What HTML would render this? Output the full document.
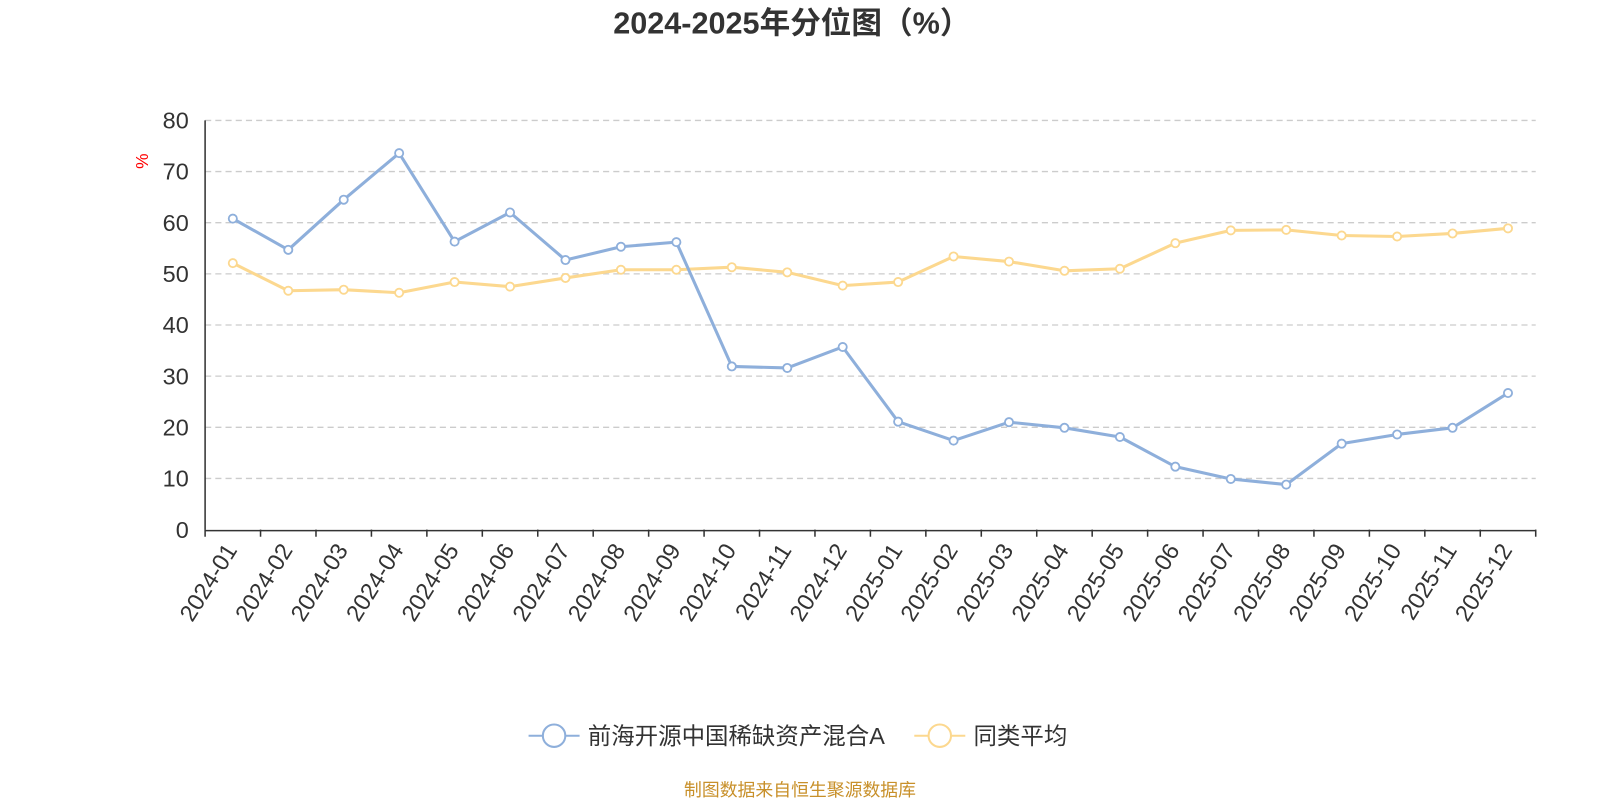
<!DOCTYPE html>
<html><head><meta charset="utf-8"><style>
body{margin:0;background:#fff;width:1600px;height:800px;overflow:hidden;font-family:"Liberation Sans","Noto Sans CJK SC",sans-serif}
</style></head><body>
<svg id="c" width="1600" height="800" viewBox="0 0 1568 784" xmlns="http://www.w3.org/2000/svg"></svg>
<script>
const categories=["2024-01","2024-02","2024-03","2024-04","2024-05","2024-06","2024-07","2024-08","2024-09","2024-10","2024-11","2024-12","2025-01","2025-02","2025-03","2025-04","2025-05","2025-06","2025-07","2025-08","2025-09","2025-10","2025-11","2025-12"];
const fundValues=[60.8,54.7,64.5,73.6,56.3,62.0,52.7,55.3,56.2,31.9,31.6,35.7,21.1,17.4,21.0,19.9,18.1,12.3,9.9,8.8,16.8,18.6,19.9,26.7];
const avgValues=[52.1,46.7,46.9,46.3,48.4,47.5,49.2,50.8,50.8,51.3,50.3,47.7,48.4,53.4,52.4,50.6,51.0,56.0,58.5,58.6,57.5,57.3,57.9,58.9];
const yTicks=[0,10,20,30,40,50,60,70,80];
const NS="http://www.w3.org/2000/svg";
const svg=document.getElementById('c');
const X0=201,X1=1505,Y0=519,Y1=118;
const bw=(X1-X0)/categories.length;
const xs=i=>X0+bw*(i+0.5);
const ys=v=>Y0-(v/80)*(Y0-Y1);
function mk(t,a,txt){const e=document.createElementNS(NS,t);for(const k in a)e.setAttribute(k,a[k]);if(txt!==undefined)e.textContent=txt;svg.appendChild(e);return e;}
let e;
e=mk('text',{x:776,y:33,'text-anchor':'middle','font-size':30,'font-weight':'bold',fill:'#333'},'2024-2025年分位图（%）');


yTicks.forEach(t=>{
 if(t>0){e=mk('line',{x1:X0,x2:X1,y1:ys(t),y2:ys(t),stroke:'#ccc','stroke-dasharray':'6,4','stroke-width':1.3});
 
 }
 e=mk('text',{x:185,y:ys(t)+8,'text-anchor':'end','font-size':23,fill:'#333'},t);
 
 
});
e=mk('text',{x:0,y:0,'font-size':17,fill:'red','text-anchor':'middle',transform:'translate(145,158) rotate(-90)'},'%');


e=mk('line',{x1:X0,x2:X0,y1:Y1,y2:Y0,stroke:'#333','stroke-width':1.5});


e=mk('line',{x1:X0,x2:X1,y1:Y0+1,y2:Y0+1,stroke:'#333','stroke-width':1.5});


for(let i=0;i<=categories.length;i++){
 e=mk('line',{x1:X0+bw*i,x2:X0+bw*i,y1:Y0,y2:Y0+7,stroke:'#333','stroke-width':1.5});
 
 
}
categories.forEach((c,i)=>{
 const x=xs(i);
 e=mk('text',{x:0,y:0,'font-size':23,fill:'#333','text-anchor':'end',transform:`translate(${x+5},${Y0+20}) rotate(-58)`},c);
 
 
});
function series(vals,color,name){
 e=mk('polyline',{points:vals.map((v,i)=>xs(i)+','+ys(v)).join(' '),fill:'none',stroke:color,'stroke-width':3,'stroke-linejoin':'round'});
 
 
 vals.forEach((v,i)=>{
  e=mk('circle',{cx:xs(i),cy:ys(v),r:4,fill:'#fff',stroke:color,'stroke-width':1.8});
  
  
 });
}
series(avgValues,'#fcd88f','average');
series(fundValues,'#8eafdb','fund');
function legend(x,color,label,name){
 e=mk('line',{x1:x,x2:x+50,y1:721,y2:721,stroke:color,'stroke-width':2});
 
 
 e=mk('circle',{cx:x+25,cy:721,r:11,fill:'#fff',stroke:color,'stroke-width':2});
 
 
 e=mk('text',{x:x+58,y:729,'font-size':23,fill:'#333'},label);
 
 
}
legend(518,'#8eafdb','前海开源中国稀缺资产混合A','fund');
legend(896,'#fcd88f','同类平均','average');
e=mk('text',{x:784,y:780,'font-size':17.5,fill:'#c8902a','text-anchor':'middle'},'制图数据来自恒生聚源数据库');


</script>
</body></html>
